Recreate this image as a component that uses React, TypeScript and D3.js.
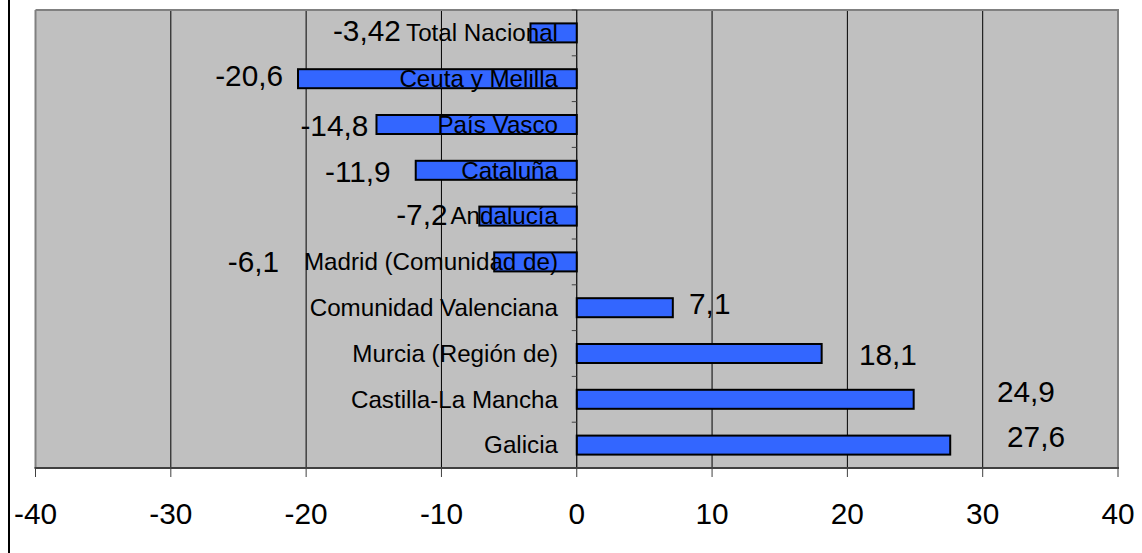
import React from "react";
import * as d3 from "d3";

const categories = [
  "Total Nacional",
  "Ceuta y Melilla",
  "País Vasco",
  "Cataluña",
  "Andalucía",
  "Madrid (Comunidad de)",
  "Comunidad Valenciana",
  "Murcia (Región de)",
  "Castilla-La Mancha",
  "Galicia",
];
const values = [-3.42, -20.6, -14.8, -11.9, -7.2, -6.1, 7.1, 18.1, 24.9, 27.6];
const valueLabels = ["-3,42", "-20,6", "-14,8", "-11,9", "-7,2", "-6,1", "7,1", "18,1", "24,9", "27,6"];
const xTicks = [-40, -30, -20, -10, 0, 10, 20, 30, 40];

// where Excel placed each value label (in axis units) and its vertical shift (px)
const labelAt = [-13.0, -21.7, -15.4, -13.75, -9.55, -22.0, 8.3, 20.85, 31.05, 31.8];
const labelDy = [-2, -3, 1, 1, -1, 0, -4, 1.5, -8, -8.5];

const W = 1142;
const H = 553;
const plot = { left: 35.5, right: 1118, top: 10, bottom: 468 };
const FONT = "'Liberation Sans', Arial, sans-serif";
const CAT_FS = 24.2;
const VAL_FS = 29.8;

export default function App() {
  const x = d3.scaleLinear().domain([-40, 40]).range([plot.left, plot.right]);
  const y = d3.scaleBand<string>().domain(categories).range([plot.top, plot.bottom]).paddingInner(0);
  const bw = y.bandwidth();
  const barH = bw * 0.415;
  const x0 = x(0);
  const bounds = d3.range(categories.length + 1).map((i) => plot.top + i * bw);

  return (
    <svg
      width={W}
      height={H}
      style={{ position: "absolute", left: 0, top: 0, background: "#fff" }}
      fontFamily={FONT}
    >
      <line x1={9} x2={9} y1={0} y2={H} stroke="#000" strokeWidth={2} />
      <rect
        x={plot.left}
        y={plot.top}
        width={plot.right - plot.left}
        height={plot.bottom - plot.top}
        fill="#C0C0C0"
      />
      {xTicks
        .filter((t) => t !== -40 && t !== 40 && t !== 0)
        .map((t) => (
          <line key={"g" + t} x1={x(t)} x2={x(t)} y1={plot.top} y2={plot.bottom} stroke="#000" strokeWidth={1} />
        ))}
      {/* plot border */}
      <line x1={plot.left} x2={plot.right + 1} y1={plot.top} y2={plot.top} stroke="#808080" strokeWidth={2} />
      <line x1={plot.left} x2={plot.left} y1={plot.top} y2={plot.bottom} stroke="#808080" strokeWidth={2} />
      <line x1={plot.right} x2={plot.right} y1={plot.top} y2={plot.bottom} stroke="#808080" strokeWidth={2} />
      {/* bars */}
      {values.map((v, i) => {
        const cy = (y(categories[i]) as number) + bw / 2;
        return (
          <rect
            key={"b" + i}
            x={Math.min(x(v), x0)}
            y={cy - barH / 2}
            width={Math.abs(x(v) - x0)}
            height={barH}
            fill="#3366FF"
            stroke="#000"
            strokeWidth={2}
          />
        );
      })}
      {/* category labels */}
      {categories.map((c, i) => {
        const cy = (y(c) as number) + bw / 2;
        return (
          <text key={"c" + i} x={558} y={cy + 8.3} fontSize={CAT_FS} textAnchor="end" fill="#000">
            {c}
          </text>
        );
      })}
      {/* zero axis */}
      <line x1={x0} x2={x0} y1={plot.top} y2={plot.bottom} stroke="#000" strokeWidth={1.2} />
      {bounds.map((b, i) => (
        <line key={"yt" + i} x1={x0 - 5} x2={x0} y1={b} y2={b} stroke="#404040" strokeWidth={1} />
      ))}
      {/* value labels */}
      {values.map((v, i) => {
        const cy = (y(categories[i]) as number) + bw / 2 + labelDy[i];
        return (
          <text
            key={"v" + i}
            x={x(labelAt[i])}
            y={cy + 10.3}
            fontSize={VAL_FS}
            textAnchor={v < 0 ? "end" : "start"}
            fill="#000"
          >
            {valueLabels[i]}
          </text>
        );
      })}
      {/* x axis */}
      <line x1={plot.left - 1} x2={plot.right + 1} y1={plot.bottom} y2={plot.bottom} stroke="#404040" strokeWidth={2} />
      {xTicks.map((t) => (
        <g key={"t" + t}>
          <line x1={x(t)} x2={x(t)} y1={plot.bottom} y2={plot.bottom + 9} stroke="#404040" strokeWidth={1} />
          <text x={x(t)} y={523.5} fontSize={VAL_FS} textAnchor="middle" fill="#000">
            {t}
          </text>
        </g>
      ))}
    </svg>
  );
}
